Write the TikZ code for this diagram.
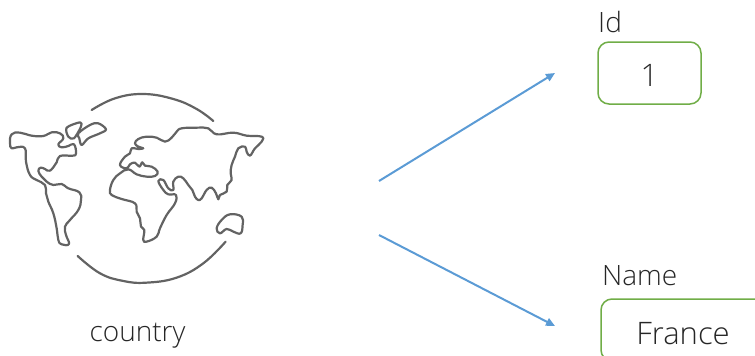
\documentclass[tikz,border=0pt]{standalone}
\usepackage{fontspec}
\setmainfont{Open Sans Light}
\usetikzlibrary{arrows.meta}
\definecolor{mapgray}{HTML}{636363}
\definecolor{boxgreen}{HTML}{70AD47}
\definecolor{arrowblue}{HTML}{5B9BD5}
\definecolor{txt}{HTML}{262626}
\tikzset{
  maplines/.style={draw=mapgray,line width=2.2pt,line cap=round,line join=round},
  fieldbox/.style={draw=boxgreen,line width=1.5pt,rounded corners=11pt,inner sep=0pt,text=txt,font=\fontsize{31}{36}\selectfont},
  lab/.style={inner sep=0pt,text=txt,font=\fontsize{28}{33}\selectfont},
  conn/.style={draw=arrowblue,line width=2pt,-{Triangle[length=9pt,width=8pt]}}
}
\begin{document}
\begin{tikzpicture}[x=1pt,y=-1pt]
\useasboundingbox (0,0) rectangle (755,356);
\clip (0,0) rectangle (755,356);
\begin{scope}[x=0.3333pt,y=-0.3333pt,yshift=-85pt]
% N. America + S. America
\draw[maplines] plot[smooth cycle,tension=0.75] coordinates {(30,175)(35,148)(60,143)(95,152)(130,153)(155,142)(180,145)(190,160)(175,178)(185,187)(205,183)(222,178)(228,205)(218,212)(180,213)(170,232)(150,257)(135,252)(122,248)(115,258)(125,275)(140,290)(160,300)(185,297)(205,310)(238,322)(243,345)(235,375)(210,405)(195,425)(198,450)(207,477)(185,478)(175,465)(170,430)(160,385)(145,350)(138,325)(135,300)(110,285)(90,270)(78,230)(75,190)(50,187)(35,190)};
% Greenland
\draw[maplines] plot[smooth cycle,tension=0.6] coordinates {(235,145)(270,120)(295,115)(318,133)(300,145)(265,160)(245,180)(238,160)};
% Baffin
\draw[maplines] plot[smooth cycle,tension=0.5] coordinates {(200,128)(240,112)(243,125)(222,160)(205,155)};
% Eurasia + Africa
\draw[maplines] plot[smooth cycle,tension=0.7] coordinates {(360,240)(375,215)(390,205)(395,190)(415,192)(430,190)(415,185)(405,175)(415,162)(440,155)(470,158)(495,170)(515,158)(530,140)(545,130)(590,128)(625,130)(650,148)(700,143)(740,152)(785,155)(785,170)(765,190)(750,212)(740,200)(735,185)(715,190)(705,215)(695,240)(692,265)(695,285)(682,300)(680,320)(660,330)(655,343)(648,325)(635,308)(620,315)(605,340)(595,345)(585,335)(577,315)(565,300)(550,280)(535,275)(520,290)(520,315)(505,310)(490,285)(475,288)(490,315)(505,328)(528,330)(525,355)(500,390)(480,430)(470,455)(440,470)(430,465)(433,435)(423,425)(420,400)(410,380)(405,355)(365,342)(335,330)(330,315)(340,285)(360,265)(385,253)(410,268)(440,275)(465,273)(473,260)(455,245)(435,242)(427,232)(418,245)(405,233)(390,238)(380,250)};
% Australia
\draw[maplines] plot[smooth cycle,tension=0.7] coordinates {(650,430)(665,405)(690,388)(725,395)(728,420)(722,445)(700,440)(680,432)(660,445)};
% circle arcs
\draw[maplines] plot[smooth,tension=0.7] coordinates {(275,75)(345,40)(430,27)(520,42)(590,72)(640,108)};
\draw[maplines] plot[smooth,tension=0.7] coordinates {(233,513)(300,565)(370,588)(440,593)(530,578)(610,535)(677,470)};
\end{scope}
\node[lab] (countrylab) at (137.5,336) {country};
\node[lab,anchor=west] (idlab) at (598,22) {Id};
\node[fieldbox,minimum width=103pt,minimum height=62pt,text height=26pt,text depth=0pt] (idbox) at (649.5,73) {1};
\node[lab,anchor=west] (namelab) at (602,276) {Name};
\node[fieldbox,minimum width=164pt,minimum height=62pt,text height=28pt,text depth=0pt] (namebox) at (683,330) {France};
\coordinate (origin1) at (379,181);
\coordinate (tip1) at (555,73);
\coordinate (origin2) at (379,235);
\coordinate (tip2) at (555,326);
\draw[conn] (origin1) -- (tip1);
\draw[conn] (origin2) -- (tip2);
\end{tikzpicture}
\end{document}
